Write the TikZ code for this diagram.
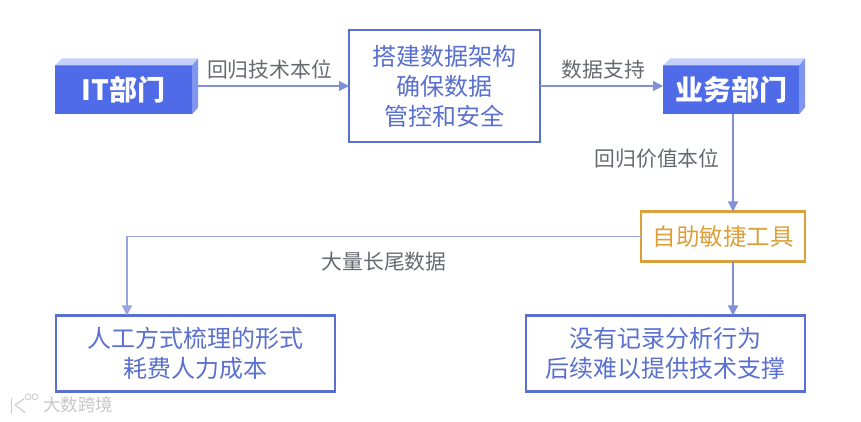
\documentclass[tikz,border=0pt]{standalone}
\usepackage{fontspec}
\setmainfont{Noto Sans CJK SC}
\usepackage{xcolor}
\usetikzlibrary{arrows.meta, positioning, calc}
\definecolor{deptblue}{HTML}{4F6BE8}
\definecolor{deptside}{HTML}{7F95F0}
\definecolor{depttop}{HTML}{C5D0F8}
\definecolor{boxblue}{HTML}{5A70CE}
\definecolor{lineblue}{HTML}{7F8FD8}
\definecolor{toolorange}{HTML}{DBA03A}
\definecolor{labelgray}{HTML}{666A70}
\newcommand{\deptfaces}[1]{
  \fill[depttop] (#1.north west) -- ++(7,7) -- ($(#1.north east)+(6,7)$) -- (#1.north east) -- cycle;
  \fill[deptside] (#1.north east) -- ++(6,7) -- ($(#1.south east)+(6,7)$) -- (#1.south east) -- cycle;
}
\begin{document}
\begin{tikzpicture}[
    x=1pt, y=1pt,
    dept/.style={rectangle, fill=deptblue, text=white, outer sep=0pt, inner sep=0pt,
      minimum height=49pt, font=\fontsize{28}{30}\selectfont\bfseries},
    plainbox/.style={rectangle, draw=boxblue, line width=2.2pt, fill=white, text=boxblue, outer sep=0pt,
      align=center, inner sep=0pt, font=\fontsize{24}{30}\selectfont},
    toolbox/.style={rectangle, draw=toolorange, line width=2.2pt, text=toolorange, outer sep=0pt,
      minimum width=164pt, minimum height=50pt, inner sep=0pt, font=\fontsize{23.5}{28}\selectfont},
    flowlabel/.style={text=labelgray, inner sep=0pt, font=\fontsize{20.8}{24}\selectfont},
    arrow/.style={-{Triangle[length=10pt, width=10pt]}, draw=lineblue, line width=1.2pt},
    mark line/.style={draw=black!22, line width=1pt, line cap=round}
  ]
  \useasboundingbox (0,0) rectangle (861,422);

  \node[dept, minimum width=137pt] at (123.5,332) (it) {IT部门};
  \node[plainbox, minimum width=191pt, minimum height=112pt, right=157pt of it, yshift=4pt] (arch)
    {搭建数据架构\\确保数据\\管控和安全};
  \node[dept, minimum width=136pt, right=123pt of arch, yshift=-4pt] (biz) {业务部门};
  \node[toolbox, below=97pt of biz, xshift=-8pt] (tool) {自助敏捷工具};
  \node[plainbox, minimum width=279pt, minimum height=76pt, below=54pt of tool, xshift=-57.5pt] (support)
    {没有记录分析行为\\后续难以提供技术支撑};
  \node[plainbox, minimum width=279pt, minimum height=76pt, left=191pt of support] (cost)
    {人工方式梳理的形式\\耗费人力成本};
  \node[text=black!22, inner sep=0pt, font=\fontsize{17.5}{20}\selectfont, below left=5pt and 82pt of cost.south] (wm) {大数跨境};

  \coordinate (bizdrop) at ([xshift=2pt]biz.south);
  \coordinate (costdrop) at ([xshift=-68.5pt]cost.north);

  \draw[arrow] (it.east |- arch.west) -- (arch.west)
    node[flowlabel, midway, above=6pt, xshift=-1pt] {回归技术本位};
  \draw[arrow] (arch.east) -- (arch.east -| biz.west)
    node[flowlabel, midway, above=6pt, xshift=2pt] {数据支持};
  \draw[arrow] (bizdrop) -- (bizdrop |- tool.north)
    node[flowlabel, pos=0.45, left=13pt] {回归价值本位};
  \draw[arrow] (bizdrop |- tool.south) -- (bizdrop |- support.north);
  % long line leaves the tool box on its west edge, drops on the left box
  \draw[arrow, draw=lineblue!80] (tool.west) -| (costdrop)
    node[flowlabel, pos=0.25, below=15pt] {大量长尾数据};

  \deptfaces{it}
  \deptfaces{biz}

  % watermark logo
  \draw[mark line] ($(wm.west)+(-32,6)$) -- ++(0,-14);
  \draw[mark line] ($(wm.west)+(-19,6)$) -- ++(-9,-6) -- ++(10,-8);
  \draw[mark line, line width=.8pt] ($(wm.west)+(-15,8)$) circle (3pt);
  \draw[mark line, line width=.8pt] ($(wm.west)+(-8,8)$) circle (3pt);
\end{tikzpicture}
\end{document}
